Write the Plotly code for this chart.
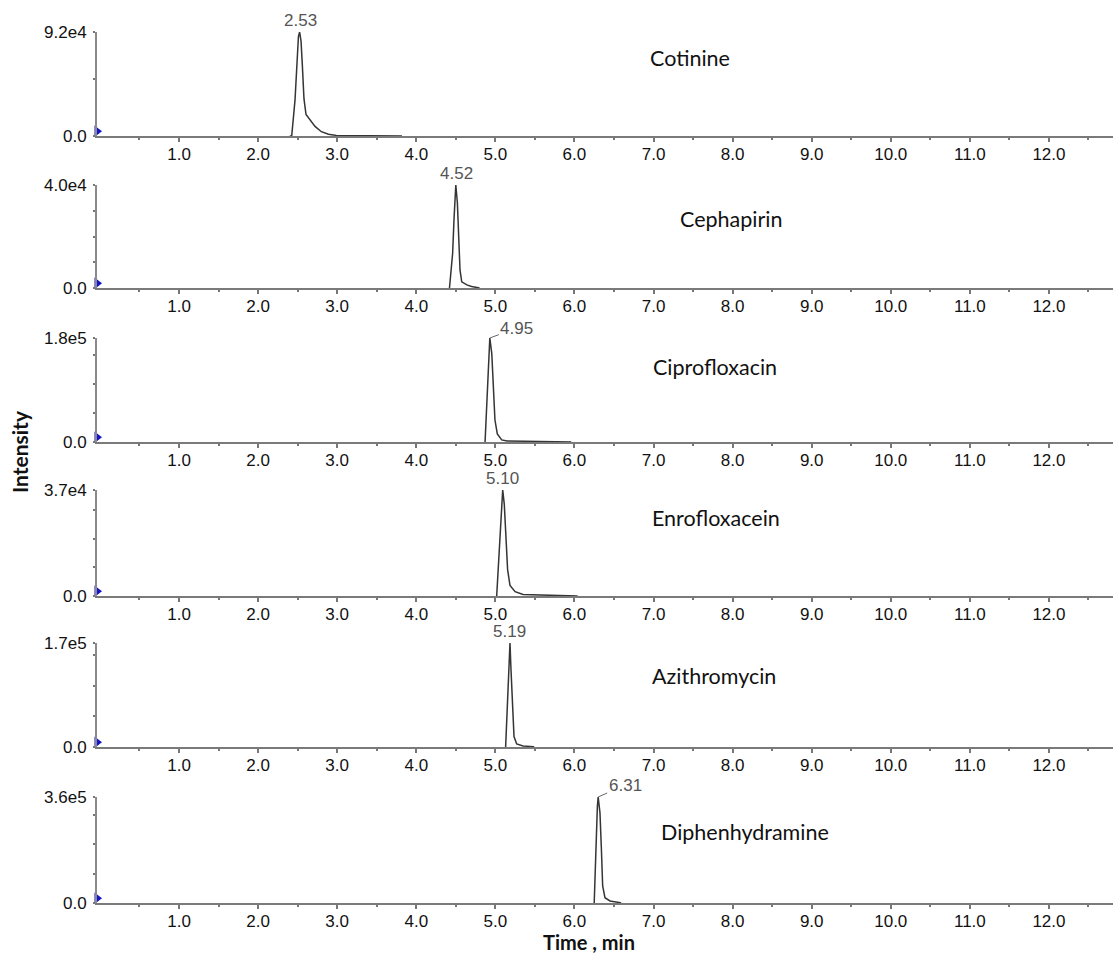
import plotly.graph_objects as go

# ---------------- data ----------------
compounds = ["Cotinine", "Cephapirin", "Ciprofloxacin", "Enrofloxacein", "Azithromycin", "Diphenhydramine"]
y_max = [9.2e4, 4.0e4, 1.8e5, 3.7e4, 1.7e5, 3.6e5]
y_max_labels = ["9.2e4", "4.0e4", "1.8e5", "3.7e4", "1.7e5", "3.6e5"]
y_tick_step = [5e4, 1e4, 5e4, 1e4, 5e4, 1e5]
rt_labels = ["2.53", "4.52", "4.95", "5.10", "5.19", "6.31"]
rt_values = [2.53, 4.51, 4.93, 5.095, 5.185, 6.30]

cot_t = [2.40, 2.425, 2.467, 2.488, 2.51, 2.525, 2.543, 2.56, 2.58, 2.606, 2.656, 2.72, 2.80, 2.89, 2.99, 3.2, 3.5, 3.8, 3.82]
cot_i = [0, 0, 32000, 62000, 88000, 92000, 84000, 62000, 33000, 19000, 14000, 8500, 3800, 1500, 500, 300, 250, 200, 0]

cep_t = [4.42, 4.46, 4.477, 4.49, 4.50, 4.52, 4.54, 4.553, 4.575, 4.64, 4.70, 4.76, 4.80]
cep_i = [0, 13500, 26500, 36000, 40000, 33000, 20000, 7000, 2400, 1200, 600, 300, 0]

cip_t = [4.87, 4.89, 4.91, 4.93, 4.955, 4.975, 4.995, 5.025, 5.08, 5.15, 5.30, 5.50, 5.69, 5.95, 5.96]
cip_i = [0, 66000, 130000, 180000, 153000, 95000, 38000, 14000, 3600, 1800, 1300, 1000, 800, 400, 0]

enr_t = [5.017, 5.046, 5.067, 5.093, 5.113, 5.135, 5.155, 5.185, 5.25, 5.35, 5.60, 5.80, 6.03, 6.04]
enr_i = [0, 14800, 26600, 37000, 32000, 20700, 9200, 3700, 1500, 500, 350, 300, 200, 0]

azi_t = [5.13, 5.15, 5.168, 5.185, 5.198, 5.215, 5.236, 5.27, 5.35, 5.48, 5.49]
azi_i = [0, 66000, 120000, 170000, 126000, 66000, 17000, 5000, 1700, 600, 0]

dip_t = [6.25, 6.27, 6.29, 6.30, 6.323, 6.34, 6.357, 6.386, 6.45, 6.58, 6.59]
dip_i = [0, 190000, 328000, 360000, 306000, 190000, 58000, 18000, 7000, 1000, 0]

series_t = [cot_t, cep_t, cip_t, enr_t, azi_t, dip_t]
series_i = [cot_i, cep_i, cip_i, enr_i, azi_i, dip_i]

x_major = [float(v) for v in range(1, 13)]
x_labels = ["%.1f" % v for v in x_major]

# ---------------- layout ----------------
W, H = 1113, 953
panel_px = [(32, 136), (185, 288), (338, 442), (490, 596), (643, 747), (797, 903)]
name_pos = [(648, 58), (678, 219), (651, 367), (650, 518), (650, 676), (659, 832)]
leader = [None, None, (27, -10), None, None, (27, -12)]
xr = [-0.037, 12.81]
x_dom = [97 / W, 1.0]

x_standoff = -2
try:
    go.layout.XAxis(ticklabelstandoff=x_standoff)
except Exception:
    x_standoff = 0

TICKFONT = dict(family="Liberation Sans, Arial, sans-serif", size=17, color="#111")

fig = go.Figure()
layout = dict(
    width=W, height=H,
    margin=dict(l=0, r=0, t=0, b=0, autoexpand=False),
    paper_bgcolor="white", plot_bgcolor="white",
    showlegend=False,
    font=dict(family="Liberation Sans, Arial, sans-serif", size=17, color="#111"),
)
annotations = []

for k in range(6):
    n = k + 1
    xa = "x" if n == 1 else "x%d" % n
    ya = "y" if n == 1 else "y%d" % n
    top, bot = panel_px[k]
    ymax = y_max[k]

    fig.add_trace(go.Scatter(x=series_t[k], y=series_i[k], mode="lines",
                             line=dict(color="#353535", width=1.5),
                             xaxis=xa, yaxis=ya, hoverinfo="skip"))
    # blue start marker
    fig.add_trace(go.Scatter(x=[xr[0]], y=[ymax * 0.045], mode="markers",
                             marker=dict(symbol="triangle-right", size=10, color="#1414c8",
                                         line=dict(width=0)),
                             cliponaxis=False, xaxis=xa, yaxis=ya, hoverinfo="skip"))

    tv = [0.0]
    v = y_tick_step[k]
    while v < ymax * 0.97:
        tv.append(v)
        v += y_tick_step[k]
    tv.append(ymax)
    tt = ["0.0"] + [""] * (len(tv) - 2) + [y_max_labels[k]]

    layout["xaxis" if n == 1 else "xaxis%d" % n] = dict(
        domain=x_dom, anchor=ya, range=xr, automargin=False,
        tickmode="array", tickvals=x_major, ticktext=x_labels,
        ticks="outside", ticklen=4, tickwidth=1.5, tickcolor="#777",
        minor=dict(tickmode="linear", tick0=0.5, dtick=1.0, ticks="outside", ticklen=2,
                   tickwidth=1.5, tickcolor="#777"),
        showline=True, linecolor="#7a7a7a", linewidth=2,
        showgrid=False, zeroline=False,
        tickfont=TICKFONT,
        ticklabelstandoff=x_standoff,
    )
    layout["yaxis" if n == 1 else "yaxis%d" % n] = dict(
        domain=[1 - bot / H, 1 - top / H], anchor=xa, range=[0, ymax], automargin=False,
        tickmode="array", tickvals=tv, ticktext=tt,
        ticks="outside", ticklen=2, tickwidth=1.5, tickcolor="#777",
        showline=True, linecolor="#8a8a8a", linewidth=2,
        showgrid=False, zeroline=False,
        tickfont=TICKFONT,
        ticklabelstandoff=3,
    )

    lblfont = dict(family="Liberation Sans, Arial, sans-serif", size=17, color="#555")
    if leader[k] is None:
        annotations.append(dict(x=rt_values[k], y=ymax, xref=xa, yref=ya,
                                text=rt_labels[k], showarrow=False, yanchor="bottom",
                                yshift=0, font=lblfont))
    else:
        axp, ayp = leader[k]
        annotations.append(dict(x=rt_values[k], y=ymax, xref=xa, yref=ya,
                                text=rt_labels[k], showarrow=True, arrowhead=0,
                                arrowwidth=1, arrowcolor="#666", ax=axp, ay=ayp,
                                standoff=0, startstandoff=0, font=lblfont))
    px, py = name_pos[k]
    annotations.append(dict(x=px / W, y=1 - py / H, xref="paper", yref="paper",
                            text=compounds[k], showarrow=False,
                            xanchor="left", yanchor="middle",
                            font=dict(family="Lato, Open Sans, sans-serif", size=21.5, color="#111")))

annotations.append(dict(x=20 / W, y=1 - 452 / H, xref="paper", yref="paper",
                        text="<b>Intensity</b>", showarrow=False, textangle=-90,
                        xanchor="center", yanchor="middle",
                        font=dict(family="Lato, Open Sans, sans-serif", size=21, color="#111")))
annotations.append(dict(x=589 / W, y=1 - 942 / H, xref="paper", yref="paper",
                        text="<b>Time , min</b>", showarrow=False,
                        xanchor="center", yanchor="middle",
                        font=dict(family="Lato, Open Sans, sans-serif", size=20, color="#111")))

layout["annotations"] = annotations
fig.update_layout(**layout)
fig.write_html("out.html", config={"displayModeBar": False},
               post_script="document.body.style.margin='0';document.body.style.overflow='hidden';")
